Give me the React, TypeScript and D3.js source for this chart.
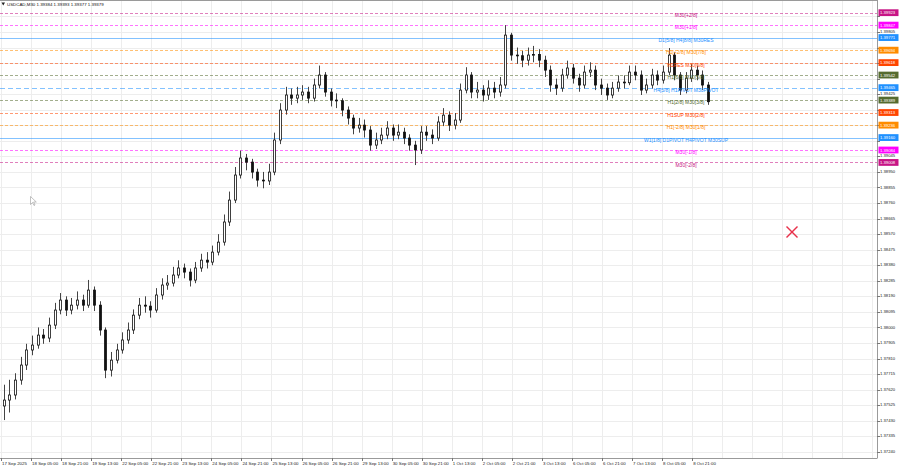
import * as d3 from "d3";

// ---- data ----
const title = "USDCAD,M30  1.39384 1.39393 1.39377 1.39379";

const timeLabels = [
  "17 Sep 2025", "18 Sep 05:00", "18 Sep 21:00", "19 Sep 13:00", "22 Sep 05:00", "22 Sep 21:00",
  "23 Sep 13:00", "24 Sep 05:00", "24 Sep 21:00", "25 Sep 13:00", "26 Sep 05:00", "26 Sep 21:00",
  "29 Sep 13:00", "30 Sep 05:00", "30 Sep 21:00", "1 Oct 13:00", "2 Oct 05:00", "2 Oct 21:00",
  "3 Oct 13:00", "6 Oct 05:00", "6 Oct 21:00", "7 Oct 13:00", "8 Oct 05:00", "8 Oct 21:00",
];

const priceTicks = [
  1.3724, 1.37335, 1.3743, 1.37525, 1.3762, 1.37715, 1.3781, 1.37905, 1.38, 1.38095,
  1.3819, 1.38285, 1.3838, 1.38475, 1.3857, 1.38665, 1.3876, 1.38855, 1.3895, 1.39045,
  1.3914, 1.39235, 1.3933, 1.39425, 1.3952, 1.39615, 1.3971, 1.39805, 1.399,
];

// 3-hour candles (6 x M30)
const firstOpen = 1.3752;
const closes = [
  1.37556, 1.37587, 1.37678, 1.3777, 1.37862, 1.37892, 1.37953, 1.37935, 1.38014, 1.38106,
  1.38167, 1.38106, 1.38136, 1.38167, 1.38136, 1.38228, 1.38136, 1.37984, 1.37739, 1.378,
  1.37862, 1.37923, 1.37984, 1.38075, 1.38136, 1.3813, 1.38106, 1.38198, 1.38259, 1.38271,
  1.3832, 1.38363, 1.38338, 1.38289, 1.38363, 1.38411, 1.38399, 1.3846, 1.38521, 1.38644,
  1.38778, 1.38931, 1.39035, 1.3901, 1.38949, 1.389, 1.38895, 1.38949, 1.39145, 1.39328,
  1.3942, 1.39401, 1.3942, 1.39438, 1.39401, 1.39481, 1.39542, 1.39438, 1.39389, 1.39385,
  1.39328, 1.39279, 1.39218, 1.39236, 1.39206, 1.39114, 1.39145, 1.39175, 1.39218, 1.39175,
  1.39193, 1.39157, 1.39114, 1.39084, 1.39193, 1.39175, 1.39157, 1.39255, 1.39297, 1.39236,
  1.39267, 1.3945, 1.39542, 1.39438, 1.3945, 1.3942, 1.39462, 1.39438, 1.39481, 1.39786,
  1.39664, 1.3966, 1.39633, 1.39664, 1.39668, 1.39633, 1.39572, 1.39481, 1.39462, 1.39542,
  1.39585, 1.39523, 1.39481, 1.3956, 1.39572, 1.39481, 1.39462, 1.3942, 1.39462, 1.39499,
  1.39495, 1.3956, 1.39542, 1.3945, 1.39481, 1.39542, 1.39511, 1.3956, 1.39664, 1.39542,
  1.3945, 1.39523, 1.39572, 1.39542, 1.39481, 1.39379,
];
const highs = [
  1.3765, 1.3768, 1.3772, 1.3782, 1.379, 1.3795, 1.38, 1.3799, 1.3806, 1.3815,
  1.3821, 1.3819, 1.3818, 1.3822, 1.382, 1.3829, 1.3825, 1.3816, 1.38, 1.3785,
  1.379, 1.3797, 1.3803, 1.3811, 1.3818, 1.3819, 1.3816, 1.3824, 1.383, 1.3832,
  1.3837, 1.3841, 1.3839, 1.3836, 1.384, 1.3845, 1.3846, 1.385, 1.3857, 1.3869,
  1.3883, 1.3898, 1.3908, 1.3906, 1.3903, 1.3897, 1.3895, 1.39, 1.3919, 1.3937,
  1.3947, 1.3946, 1.3947, 1.3948, 1.3947, 1.3952, 1.396, 1.3956, 1.3946, 1.3943,
  1.394, 1.3935, 1.393, 1.3928, 1.3927, 1.3923, 1.3919, 1.3922, 1.3926, 1.3924,
  1.3924, 1.3922, 1.3918, 1.3914, 1.3923, 1.3923, 1.3921, 1.3929, 1.3934, 1.3932,
  1.3931, 1.3949, 1.3959, 1.3956, 1.395, 1.3948, 1.3951, 1.395, 1.3953, 1.39847,
  1.398, 1.3971, 1.3969, 1.3971, 1.3972, 1.397, 1.3966, 1.396, 1.3952, 1.3958,
  1.3963, 1.3961, 1.3955, 1.396, 1.3962, 1.396, 1.3952, 1.3949, 1.395, 1.3954,
  1.3954, 1.396, 1.396, 1.3957, 1.3952, 1.3958, 1.3957, 1.396, 1.39707, 1.3968,
  1.3956, 1.3956, 1.3961, 1.396, 1.3957, 1.395,
];
const lows = [
  1.37434, 1.3748, 1.3756, 1.3765, 1.3774, 1.3783, 1.3787, 1.379, 1.3791, 1.3799,
  1.3808, 1.3807, 1.3808, 1.3811, 1.381, 1.3812, 1.381, 1.3795, 1.3769, 1.377,
  1.3778, 1.3784, 1.379, 1.3796, 1.3805, 1.3809, 1.3806, 1.3809, 1.3817, 1.3823,
  1.3825, 1.383, 1.383, 1.3825, 1.3827, 1.3834, 1.3836, 1.3838, 1.3844, 1.385,
  1.3862, 1.3876, 1.3891, 1.3896, 1.3891, 1.3886, 1.3885, 1.3887, 1.3893, 1.3912,
  1.393, 1.3936, 1.3937, 1.3939, 1.3937, 1.3938, 1.3946, 1.3941, 1.3935, 1.3934,
  1.3929, 1.3924, 1.3918, 1.3919, 1.3916, 1.3908, 1.3909, 1.3912, 1.3915, 1.3914,
  1.3915, 1.3912, 1.3908, 1.38992, 1.3906, 1.3914, 1.3912, 1.3914, 1.3923, 1.392,
  1.3921, 1.3925, 1.3943, 1.394, 1.394, 1.3938, 1.3939, 1.394, 1.3941, 1.3946,
  1.3963, 1.3961, 1.3959, 1.396, 1.3962, 1.3959, 1.3953, 1.3944, 1.3942, 1.3944,
  1.3952, 1.3949, 1.3944, 1.3946, 1.3953, 1.3945, 1.3942, 1.3939, 1.394, 1.3944,
  1.3946, 1.3948, 1.3951, 1.3942, 1.3943, 1.3946, 1.3948, 1.3949, 1.3954, 1.3951,
  1.3942, 1.3943, 1.395, 1.3951, 1.3945, 1.3936,
];

// Murrey-style levels drawn across the chart
const levelPrices = [
  1.39923, 1.39847, 1.39771, 1.39694, 1.39618, 1.39542, 1.39465,
  1.39389, 1.39313, 1.39236, 1.3916, 1.39084, 1.39008,
];
const levelNames = [
  "M30[+2/8]", "M30[+1/8]", "D1[5/8] H4[8/8] M30RES", "H1[+2/8] M30[7/8]", "H1RES M30[6/8]",
  "H1[6/8] M30[5/8]", "H4[5/8] H1PIVOT M30PIVOT", "H1[2/8] M30[3/8]", "H1SUP M30[2/8]",
  "H1[-2/8] M30[1/8]", "W1[1/8] D1PIVOT H4PIVOT M30SUP", "M30[-1/8]", "M30[-2/8]",
];

// ---- layout / style ----
const W = 900;
const H = 468;
const plotRight = 877;
const plotBottom = 458;
const barsPerCandle = 6;
const pxPerBar = 30.05 / 32;
const font = "'Liberation Sans', Arial, sans-serif";

const levelColor = [
  "#c71585", "#ff00ff", "#1e90ff", "#ff8c00", "#ff4500", "#556b2f", "#1e90ff",
  "#556b2f", "#ff4500", "#ff8c00", "#1e90ff", "#ff00ff", "#c71585",
];
const levelDash = ["3,2", "3,2", "", "3,2", "3,2", "3,2", "5,3", "3,2", "3,2", "3,2", "", "3,2", "3,2"];

export default function App() {
  const totalBars = closes.length * barsPerCandle;
  const x = d3.scaleLinear().domain([0, totalBars]).range([1, 1 + totalBars * pxPerBar]);
  const y = d3.scaleLinear().domain([1.3724, 1.39805]).range([451.8, 32]);

  const gridBars = d3.range(0, 40).map((k) => k * 32).filter((b) => x(b) < plotRight);
  const bodyW = 2;

  // like the terminal: a tick label hidden when a level price box sits on it
  const shownTicks = priceTicks.filter((p) => levelPrices.every((lp) => Math.abs(y(lp) - y(p)) > 5));

  return (
    <svg
      width={W}
      height={H}
      style={{ position: "absolute", left: 0, top: 0, background: "#fff" }}
      fontFamily={font}
    >
      <rect x={0} y={0} width={W} height={H} fill="#fff" />
      {/* grid */}
      <g stroke="#ededed" strokeWidth={1}>
        {gridBars.map((b) => (
          <line key={"v" + b} x1={Math.round(x(b)) + 0.5} x2={Math.round(x(b)) + 0.5} y1={0} y2={plotBottom} />
        ))}
        {priceTicks.map((p) => (
          <line key={"h" + p} x1={0} x2={plotRight} y1={Math.round(y(p)) + 0.5} y2={Math.round(y(p)) + 0.5} />
        ))}
      </g>

      {/* level lines */}
      {levelPrices.map((p, i) => (
        <line
          key={"l" + i}
          x1={0}
          x2={plotRight}
          y1={Math.round(y(p)) + 0.5}
          y2={Math.round(y(p)) + 0.5}
          stroke={levelColor[i]}
          strokeOpacity={0.55}
          strokeDasharray={levelDash[i] || undefined}
        />
      ))}

      {/* candles */}
      <g>
        {closes.map((c, i) => {
          const o = i === 0 ? firstOpen : closes[i - 1];
          const cx = Math.round(x(i * barsPerCandle + barsPerCandle / 2)) + 0.5;
          const top = y(Math.max(o, c));
          const bot = y(Math.min(o, c));
          const bull = c >= o;
          return (
            <g key={"c" + i}>
              <line x1={cx} x2={cx} y1={y(highs[i])} y2={y(lows[i])} stroke="#444" strokeWidth={1} />
              <rect
                x={cx - bodyW / 2}
                y={top}
                width={bodyW}
                height={Math.max(0.8, bot - top)}
                fill={bull ? "#fff" : "#111"}
                stroke="#111"
                strokeWidth={0.8}
              />
            </g>
          );
        })}
      </g>

      {/* level labels */}
      {levelPrices.map((p, i) => (
        <text
          key={"t" + i}
          x={686}
          y={y(p) + 4.3}
          textAnchor="middle"
          fontSize={5}
          fill={levelColor[i]}
        >
          {levelNames[i]}
        </text>
      ))}

      {/* frame */}
      <line x1={plotRight + 0.5} x2={plotRight + 0.5} y1={0} y2={plotBottom} stroke="#9a9a9a" />
      <line x1={0} x2={plotRight + 0.5} y1={plotBottom + 0.5} y2={plotBottom + 0.5} stroke="#9a9a9a" />
      <line x1={0} x2={plotRight + 0.5} y1={0.5} y2={0.5} stroke="#9a9a9a" />

      {/* price axis */}
      {priceTicks.map((p) => (
        <line key={"ptk" + p} x1={plotRight} x2={plotRight + 3} y1={Math.round(y(p)) + 0.5} y2={Math.round(y(p)) + 0.5} stroke="#777" />
      ))}
      {shownTicks.map((p) => (
        <text key={"pt" + p} x={880} y={y(p) + 1.1} fontSize={4.2} fill="#222">
          {p.toFixed(5)}
        </text>
      ))}
      {levelPrices.map((p, i) => (
        <g key={"pb" + i}>
          <rect x={878.5} y={y(p) - 3.4} width={20} height={6.8} fill={levelColor[i]} />
          <text x={880} y={y(p) + 1.6} fontSize={4.2} fill="#fff">
            {p.toFixed(5)}
          </text>
        </g>
      ))}

      {/* time axis */}
      {timeLabels.map((t, k) => (
        <g key={"tl" + k}>
          <line x1={Math.round(x(k * 32)) + 0.5} x2={Math.round(x(k * 32)) + 0.5} y1={plotBottom} y2={plotBottom + 3} stroke="#777" />
          <text x={x(k * 32) + 1} y={465.3} fontSize={4.4} fill="#222">
            {t}
          </text>
        </g>
      ))}

      {/* title */}
      <path d="M1.5,2.5 L5,2.5 L3.25,5.5 Z" fill="#222" />
      <text x={7} y={5.6} fontSize={4.4} fill="#111">
        {title}
      </text>

      {/* cursor + red cross */}
      <path d="M30.5,196.5 L30.5,204.5 L32.5,202.5 L34,205.5 L35,205 L33.6,202 L36.3,202 Z" fill="#fff" stroke="#999" strokeWidth={0.6} />
      <g stroke="#e8304a" strokeWidth={1.4}>
        <line x1={786.5} y1={226.5} x2={797.5} y2={237.5} />
        <line x1={797.5} y1={226.5} x2={786.5} y2={237.5} />
      </g>
    </svg>
  );
}
